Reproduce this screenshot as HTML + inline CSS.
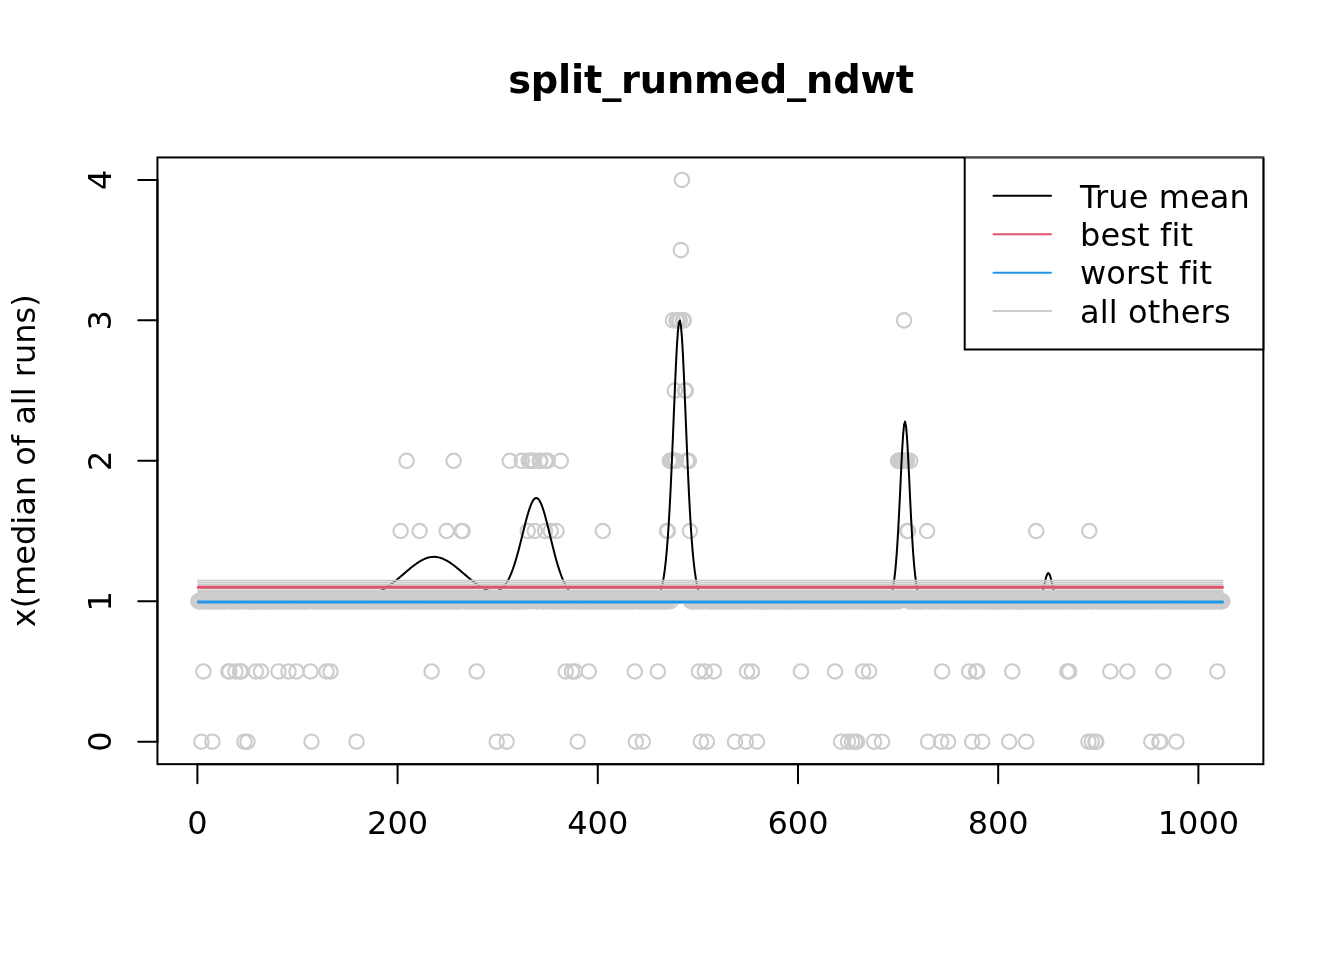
<!DOCTYPE html>
<html lang="en"><head><meta charset="utf-8"><title>split_runmed_ndwt</title>
<style>html,body{margin:0;padding:0;background:#fff}svg{display:block}text{font-family:"DejaVu Sans","Liberation Sans",sans-serif;fill:#000}</style></head><body>
<svg width="1344" height="960" viewBox="0 0 1344 960">
<rect width="1344" height="960" fill="#fff"/>
<g fill="none" stroke="#cccccc" stroke-width="2.15">
<circle cx="198.40" cy="601.24" r="7.2"/><circle cx="199.40" cy="601.24" r="7.2"/><circle cx="200.40" cy="601.24" r="7.2"/><circle cx="201.40" cy="741.69" r="7.2"/><circle cx="202.40" cy="601.24" r="7.2"/><circle cx="203.40" cy="671.47" r="7.2"/><circle cx="204.41" cy="601.24" r="7.2"/><circle cx="205.41" cy="601.24" r="7.2"/><circle cx="206.41" cy="601.24" r="7.2"/><circle cx="207.41" cy="601.24" r="7.2"/><circle cx="208.41" cy="601.24" r="7.2"/><circle cx="209.41" cy="601.24" r="7.2"/><circle cx="210.41" cy="601.24" r="7.2"/><circle cx="211.41" cy="601.24" r="7.2"/><circle cx="212.41" cy="741.69" r="7.2"/><circle cx="213.41" cy="601.24" r="7.2"/><circle cx="214.42" cy="601.24" r="7.2"/><circle cx="215.42" cy="601.24" r="7.2"/><circle cx="216.42" cy="601.24" r="7.2"/><circle cx="217.42" cy="601.24" r="7.2"/><circle cx="218.42" cy="601.24" r="7.2"/><circle cx="219.42" cy="601.24" r="7.2"/><circle cx="220.42" cy="601.24" r="7.2"/><circle cx="221.42" cy="601.24" r="7.2"/><circle cx="222.42" cy="601.24" r="7.2"/><circle cx="223.42" cy="601.24" r="7.2"/><circle cx="224.43" cy="601.24" r="7.2"/><circle cx="225.43" cy="601.24" r="7.2"/><circle cx="226.43" cy="601.24" r="7.2"/><circle cx="227.43" cy="601.24" r="7.2"/><circle cx="228.43" cy="671.47" r="7.2"/><circle cx="229.43" cy="671.47" r="7.2"/><circle cx="230.43" cy="601.24" r="7.2"/><circle cx="231.43" cy="601.24" r="7.2"/><circle cx="232.43" cy="601.24" r="7.2"/><circle cx="233.43" cy="601.24" r="7.2"/><circle cx="234.44" cy="601.24" r="7.2"/><circle cx="235.44" cy="671.47" r="7.2"/><circle cx="236.44" cy="601.24" r="7.2"/><circle cx="237.44" cy="601.24" r="7.2"/><circle cx="238.44" cy="601.24" r="7.2"/><circle cx="239.44" cy="601.24" r="7.2"/><circle cx="240.04" cy="671.47" r="7.2"/><circle cx="241.14" cy="671.47" r="7.2"/><circle cx="242.44" cy="601.24" r="7.2"/><circle cx="243.44" cy="601.24" r="7.2"/><circle cx="244.44" cy="741.69" r="7.2"/><circle cx="245.45" cy="601.24" r="7.2"/><circle cx="246.45" cy="601.24" r="7.2"/><circle cx="247.45" cy="741.69" r="7.2"/><circle cx="248.45" cy="601.24" r="7.2"/><circle cx="249.45" cy="601.24" r="7.2"/><circle cx="250.45" cy="601.24" r="7.2"/><circle cx="251.45" cy="601.24" r="7.2"/><circle cx="252.45" cy="601.24" r="7.2"/><circle cx="253.45" cy="601.24" r="7.2"/><circle cx="254.45" cy="601.24" r="7.2"/><circle cx="255.86" cy="671.47" r="7.2"/><circle cx="256.46" cy="601.24" r="7.2"/><circle cx="257.46" cy="601.24" r="7.2"/><circle cx="258.46" cy="601.24" r="7.2"/><circle cx="259.46" cy="601.24" r="7.2"/><circle cx="260.46" cy="601.24" r="7.2"/><circle cx="261.06" cy="671.47" r="7.2"/><circle cx="262.46" cy="601.24" r="7.2"/><circle cx="263.46" cy="601.24" r="7.2"/><circle cx="264.46" cy="601.24" r="7.2"/><circle cx="265.47" cy="601.24" r="7.2"/><circle cx="266.47" cy="601.24" r="7.2"/><circle cx="267.47" cy="601.24" r="7.2"/><circle cx="268.47" cy="601.24" r="7.2"/><circle cx="269.47" cy="601.24" r="7.2"/><circle cx="270.47" cy="601.24" r="7.2"/><circle cx="271.47" cy="601.24" r="7.2"/><circle cx="272.47" cy="601.24" r="7.2"/><circle cx="273.47" cy="601.24" r="7.2"/><circle cx="274.47" cy="601.24" r="7.2"/><circle cx="275.48" cy="601.24" r="7.2"/><circle cx="276.48" cy="601.24" r="7.2"/><circle cx="277.48" cy="601.24" r="7.2"/><circle cx="278.48" cy="671.47" r="7.2"/><circle cx="279.48" cy="601.24" r="7.2"/><circle cx="280.48" cy="601.24" r="7.2"/><circle cx="281.48" cy="601.24" r="7.2"/><circle cx="282.48" cy="601.24" r="7.2"/><circle cx="283.48" cy="601.24" r="7.2"/><circle cx="284.48" cy="601.24" r="7.2"/><circle cx="285.49" cy="601.24" r="7.2"/><circle cx="286.49" cy="601.24" r="7.2"/><circle cx="287.49" cy="601.24" r="7.2"/><circle cx="288.49" cy="671.47" r="7.2"/><circle cx="289.49" cy="601.24" r="7.2"/><circle cx="290.49" cy="601.24" r="7.2"/><circle cx="291.49" cy="601.24" r="7.2"/><circle cx="292.49" cy="601.24" r="7.2"/><circle cx="293.49" cy="601.24" r="7.2"/><circle cx="294.49" cy="601.24" r="7.2"/><circle cx="295.49" cy="601.24" r="7.2"/><circle cx="296.50" cy="671.47" r="7.2"/><circle cx="297.50" cy="601.24" r="7.2"/><circle cx="298.50" cy="601.24" r="7.2"/><circle cx="299.50" cy="601.24" r="7.2"/><circle cx="300.50" cy="601.24" r="7.2"/><circle cx="301.50" cy="601.24" r="7.2"/><circle cx="302.50" cy="601.24" r="7.2"/><circle cx="303.50" cy="601.24" r="7.2"/><circle cx="304.50" cy="601.24" r="7.2"/><circle cx="305.50" cy="601.24" r="7.2"/><circle cx="306.51" cy="601.24" r="7.2"/><circle cx="307.51" cy="601.24" r="7.2"/><circle cx="308.51" cy="601.24" r="7.2"/><circle cx="309.51" cy="601.24" r="7.2"/><circle cx="310.51" cy="671.47" r="7.2"/><circle cx="311.51" cy="741.69" r="7.2"/><circle cx="312.51" cy="601.24" r="7.2"/><circle cx="313.51" cy="601.24" r="7.2"/><circle cx="314.51" cy="601.24" r="7.2"/><circle cx="315.51" cy="601.24" r="7.2"/><circle cx="316.52" cy="601.24" r="7.2"/><circle cx="317.52" cy="601.24" r="7.2"/><circle cx="318.52" cy="601.24" r="7.2"/><circle cx="319.52" cy="601.24" r="7.2"/><circle cx="320.52" cy="601.24" r="7.2"/><circle cx="321.52" cy="601.24" r="7.2"/><circle cx="322.52" cy="601.24" r="7.2"/><circle cx="323.52" cy="601.24" r="7.2"/><circle cx="324.52" cy="601.24" r="7.2"/><circle cx="325.52" cy="601.24" r="7.2"/><circle cx="326.53" cy="671.47" r="7.2"/><circle cx="327.53" cy="601.24" r="7.2"/><circle cx="328.53" cy="601.24" r="7.2"/><circle cx="329.53" cy="601.24" r="7.2"/><circle cx="330.53" cy="671.47" r="7.2"/><circle cx="331.53" cy="601.24" r="7.2"/><circle cx="332.53" cy="601.24" r="7.2"/><circle cx="333.53" cy="601.24" r="7.2"/><circle cx="334.53" cy="601.24" r="7.2"/><circle cx="335.53" cy="601.24" r="7.2"/><circle cx="336.53" cy="601.24" r="7.2"/><circle cx="337.54" cy="601.24" r="7.2"/><circle cx="338.54" cy="601.24" r="7.2"/><circle cx="339.54" cy="601.24" r="7.2"/><circle cx="340.54" cy="601.24" r="7.2"/><circle cx="341.54" cy="601.24" r="7.2"/><circle cx="342.54" cy="601.24" r="7.2"/><circle cx="343.54" cy="601.24" r="7.2"/><circle cx="344.54" cy="601.24" r="7.2"/><circle cx="345.54" cy="601.24" r="7.2"/><circle cx="346.54" cy="601.24" r="7.2"/><circle cx="347.55" cy="601.24" r="7.2"/><circle cx="348.55" cy="601.24" r="7.2"/><circle cx="349.55" cy="601.24" r="7.2"/><circle cx="350.55" cy="601.24" r="7.2"/><circle cx="351.55" cy="601.24" r="7.2"/><circle cx="352.55" cy="601.24" r="7.2"/><circle cx="353.55" cy="601.24" r="7.2"/><circle cx="354.55" cy="601.24" r="7.2"/><circle cx="355.55" cy="601.24" r="7.2"/><circle cx="356.55" cy="741.69" r="7.2"/><circle cx="357.56" cy="601.24" r="7.2"/><circle cx="358.56" cy="601.24" r="7.2"/><circle cx="359.56" cy="601.24" r="7.2"/><circle cx="360.56" cy="601.24" r="7.2"/><circle cx="361.56" cy="601.24" r="7.2"/><circle cx="362.56" cy="601.24" r="7.2"/><circle cx="363.56" cy="601.24" r="7.2"/><circle cx="364.56" cy="601.24" r="7.2"/><circle cx="365.56" cy="601.24" r="7.2"/><circle cx="366.56" cy="601.24" r="7.2"/><circle cx="367.57" cy="601.24" r="7.2"/><circle cx="368.57" cy="601.24" r="7.2"/><circle cx="369.57" cy="601.24" r="7.2"/><circle cx="370.57" cy="601.24" r="7.2"/><circle cx="371.57" cy="601.24" r="7.2"/><circle cx="372.57" cy="601.24" r="7.2"/><circle cx="373.57" cy="601.24" r="7.2"/><circle cx="374.57" cy="601.24" r="7.2"/><circle cx="375.57" cy="601.24" r="7.2"/><circle cx="376.57" cy="601.24" r="7.2"/><circle cx="377.57" cy="601.24" r="7.2"/><circle cx="378.58" cy="601.24" r="7.2"/><circle cx="379.58" cy="601.24" r="7.2"/><circle cx="380.58" cy="601.24" r="7.2"/><circle cx="381.58" cy="601.24" r="7.2"/><circle cx="382.58" cy="601.24" r="7.2"/><circle cx="383.58" cy="601.24" r="7.2"/><circle cx="384.58" cy="601.24" r="7.2"/><circle cx="385.58" cy="601.24" r="7.2"/><circle cx="386.58" cy="601.24" r="7.2"/><circle cx="387.58" cy="601.24" r="7.2"/><circle cx="388.59" cy="601.24" r="7.2"/><circle cx="389.59" cy="601.24" r="7.2"/><circle cx="390.59" cy="601.24" r="7.2"/><circle cx="391.59" cy="601.24" r="7.2"/><circle cx="392.59" cy="601.24" r="7.2"/><circle cx="393.59" cy="601.24" r="7.2"/><circle cx="394.59" cy="601.24" r="7.2"/><circle cx="395.59" cy="601.24" r="7.2"/><circle cx="396.59" cy="601.24" r="7.2"/><circle cx="397.59" cy="601.24" r="7.2"/><circle cx="398.60" cy="601.24" r="7.2"/><circle cx="399.60" cy="601.24" r="7.2"/><circle cx="400.60" cy="531.02" r="7.2"/><circle cx="401.60" cy="601.24" r="7.2"/><circle cx="402.60" cy="601.24" r="7.2"/><circle cx="403.60" cy="601.24" r="7.2"/><circle cx="404.60" cy="601.24" r="7.2"/><circle cx="405.60" cy="601.24" r="7.2"/><circle cx="406.60" cy="460.80" r="7.2"/><circle cx="407.60" cy="601.24" r="7.2"/><circle cx="408.61" cy="601.24" r="7.2"/><circle cx="409.61" cy="601.24" r="7.2"/><circle cx="410.61" cy="601.24" r="7.2"/><circle cx="411.61" cy="601.24" r="7.2"/><circle cx="412.61" cy="601.24" r="7.2"/><circle cx="413.61" cy="601.24" r="7.2"/><circle cx="414.61" cy="601.24" r="7.2"/><circle cx="415.61" cy="601.24" r="7.2"/><circle cx="416.61" cy="601.24" r="7.2"/><circle cx="417.61" cy="601.24" r="7.2"/><circle cx="418.62" cy="601.24" r="7.2"/><circle cx="419.62" cy="531.02" r="7.2"/><circle cx="420.62" cy="601.24" r="7.2"/><circle cx="421.62" cy="601.24" r="7.2"/><circle cx="422.62" cy="601.24" r="7.2"/><circle cx="423.62" cy="601.24" r="7.2"/><circle cx="424.62" cy="601.24" r="7.2"/><circle cx="425.62" cy="601.24" r="7.2"/><circle cx="426.62" cy="601.24" r="7.2"/><circle cx="427.62" cy="601.24" r="7.2"/><circle cx="428.62" cy="601.24" r="7.2"/><circle cx="429.63" cy="601.24" r="7.2"/><circle cx="430.63" cy="601.24" r="7.2"/><circle cx="431.63" cy="671.47" r="7.2"/><circle cx="432.63" cy="601.24" r="7.2"/><circle cx="433.63" cy="601.24" r="7.2"/><circle cx="434.63" cy="601.24" r="7.2"/><circle cx="435.63" cy="601.24" r="7.2"/><circle cx="436.63" cy="601.24" r="7.2"/><circle cx="437.63" cy="601.24" r="7.2"/><circle cx="438.63" cy="601.24" r="7.2"/><circle cx="439.64" cy="601.24" r="7.2"/><circle cx="440.64" cy="601.24" r="7.2"/><circle cx="441.64" cy="601.24" r="7.2"/><circle cx="442.64" cy="601.24" r="7.2"/><circle cx="443.64" cy="601.24" r="7.2"/><circle cx="444.64" cy="601.24" r="7.2"/><circle cx="445.64" cy="601.24" r="7.2"/><circle cx="446.64" cy="531.02" r="7.2"/><circle cx="447.64" cy="601.24" r="7.2"/><circle cx="448.64" cy="601.24" r="7.2"/><circle cx="449.65" cy="601.24" r="7.2"/><circle cx="450.65" cy="601.24" r="7.2"/><circle cx="451.65" cy="601.24" r="7.2"/><circle cx="452.65" cy="601.24" r="7.2"/><circle cx="453.65" cy="460.80" r="7.2"/><circle cx="454.65" cy="601.24" r="7.2"/><circle cx="455.65" cy="601.24" r="7.2"/><circle cx="456.65" cy="601.24" r="7.2"/><circle cx="457.65" cy="601.24" r="7.2"/><circle cx="458.65" cy="601.24" r="7.2"/><circle cx="459.66" cy="601.24" r="7.2"/><circle cx="460.66" cy="601.24" r="7.2"/><circle cx="461.66" cy="531.02" r="7.2"/><circle cx="462.66" cy="531.02" r="7.2"/><circle cx="463.66" cy="601.24" r="7.2"/><circle cx="464.66" cy="601.24" r="7.2"/><circle cx="465.66" cy="601.24" r="7.2"/><circle cx="466.66" cy="601.24" r="7.2"/><circle cx="467.66" cy="601.24" r="7.2"/><circle cx="468.66" cy="601.24" r="7.2"/><circle cx="469.66" cy="601.24" r="7.2"/><circle cx="470.67" cy="601.24" r="7.2"/><circle cx="471.67" cy="601.24" r="7.2"/><circle cx="472.67" cy="601.24" r="7.2"/><circle cx="473.67" cy="601.24" r="7.2"/><circle cx="474.67" cy="601.24" r="7.2"/><circle cx="475.67" cy="601.24" r="7.2"/><circle cx="476.67" cy="671.47" r="7.2"/><circle cx="477.67" cy="601.24" r="7.2"/><circle cx="478.67" cy="601.24" r="7.2"/><circle cx="479.67" cy="601.24" r="7.2"/><circle cx="480.68" cy="601.24" r="7.2"/><circle cx="481.68" cy="601.24" r="7.2"/><circle cx="482.68" cy="601.24" r="7.2"/><circle cx="483.68" cy="601.24" r="7.2"/><circle cx="484.68" cy="601.24" r="7.2"/><circle cx="485.68" cy="601.24" r="7.2"/><circle cx="486.68" cy="601.24" r="7.2"/><circle cx="487.68" cy="601.24" r="7.2"/><circle cx="488.68" cy="601.24" r="7.2"/><circle cx="489.68" cy="601.24" r="7.2"/><circle cx="490.69" cy="601.24" r="7.2"/><circle cx="491.69" cy="601.24" r="7.2"/><circle cx="492.69" cy="601.24" r="7.2"/><circle cx="493.69" cy="601.24" r="7.2"/><circle cx="494.69" cy="601.24" r="7.2"/><circle cx="495.69" cy="601.24" r="7.2"/><circle cx="496.69" cy="741.69" r="7.2"/><circle cx="497.69" cy="601.24" r="7.2"/><circle cx="498.69" cy="601.24" r="7.2"/><circle cx="499.69" cy="601.24" r="7.2"/><circle cx="500.70" cy="601.24" r="7.2"/><circle cx="501.70" cy="601.24" r="7.2"/><circle cx="502.70" cy="601.24" r="7.2"/><circle cx="503.70" cy="601.24" r="7.2"/><circle cx="504.70" cy="601.24" r="7.2"/><circle cx="505.70" cy="601.24" r="7.2"/><circle cx="506.70" cy="741.69" r="7.2"/><circle cx="507.70" cy="601.24" r="7.2"/><circle cx="508.70" cy="601.24" r="7.2"/><circle cx="509.70" cy="460.80" r="7.2"/><circle cx="510.70" cy="601.24" r="7.2"/><circle cx="511.71" cy="601.24" r="7.2"/><circle cx="512.71" cy="601.24" r="7.2"/><circle cx="513.71" cy="601.24" r="7.2"/><circle cx="514.71" cy="601.24" r="7.2"/><circle cx="515.71" cy="601.24" r="7.2"/><circle cx="516.71" cy="601.24" r="7.2"/><circle cx="517.71" cy="601.24" r="7.2"/><circle cx="518.71" cy="601.24" r="7.2"/><circle cx="519.71" cy="601.24" r="7.2"/><circle cx="520.71" cy="601.24" r="7.2"/><circle cx="521.72" cy="460.80" r="7.2"/><circle cx="522.72" cy="601.24" r="7.2"/><circle cx="523.72" cy="601.24" r="7.2"/><circle cx="524.72" cy="601.24" r="7.2"/><circle cx="525.72" cy="601.24" r="7.2"/><circle cx="526.72" cy="601.24" r="7.2"/><circle cx="527.72" cy="531.02" r="7.2"/><circle cx="528.72" cy="460.80" r="7.2"/><circle cx="529.72" cy="460.80" r="7.2"/><circle cx="530.72" cy="601.24" r="7.2"/><circle cx="531.73" cy="460.80" r="7.2"/><circle cx="532.73" cy="601.24" r="7.2"/><circle cx="533.43" cy="460.80" r="7.2"/><circle cx="534.73" cy="531.02" r="7.2"/><circle cx="535.73" cy="601.24" r="7.2"/><circle cx="536.73" cy="601.24" r="7.2"/><circle cx="537.73" cy="601.24" r="7.2"/><circle cx="538.73" cy="601.24" r="7.2"/><circle cx="539.73" cy="460.80" r="7.2"/><circle cx="540.33" cy="460.80" r="7.2"/><circle cx="541.74" cy="601.24" r="7.2"/><circle cx="542.74" cy="601.24" r="7.2"/><circle cx="543.74" cy="601.24" r="7.2"/><circle cx="545.04" cy="531.02" r="7.2"/><circle cx="545.34" cy="460.80" r="7.2"/><circle cx="546.74" cy="601.24" r="7.2"/><circle cx="547.74" cy="460.80" r="7.2"/><circle cx="548.74" cy="601.24" r="7.2"/><circle cx="549.74" cy="601.24" r="7.2"/><circle cx="550.74" cy="531.02" r="7.2"/><circle cx="551.75" cy="601.24" r="7.2"/><circle cx="552.75" cy="601.24" r="7.2"/><circle cx="553.75" cy="601.24" r="7.2"/><circle cx="554.75" cy="601.24" r="7.2"/><circle cx="555.75" cy="601.24" r="7.2"/><circle cx="556.55" cy="531.02" r="7.2"/><circle cx="557.75" cy="601.24" r="7.2"/><circle cx="558.75" cy="601.24" r="7.2"/><circle cx="559.75" cy="601.24" r="7.2"/><circle cx="560.75" cy="460.80" r="7.2"/><circle cx="561.75" cy="601.24" r="7.2"/><circle cx="562.76" cy="601.24" r="7.2"/><circle cx="563.76" cy="601.24" r="7.2"/><circle cx="564.76" cy="601.24" r="7.2"/><circle cx="565.76" cy="671.47" r="7.2"/><circle cx="566.76" cy="601.24" r="7.2"/><circle cx="567.76" cy="601.24" r="7.2"/><circle cx="568.76" cy="601.24" r="7.2"/><circle cx="569.76" cy="601.24" r="7.2"/><circle cx="570.76" cy="601.24" r="7.2"/><circle cx="571.96" cy="671.47" r="7.2"/><circle cx="572.77" cy="601.24" r="7.2"/><circle cx="573.77" cy="601.24" r="7.2"/><circle cx="574.97" cy="671.47" r="7.2"/><circle cx="575.77" cy="601.24" r="7.2"/><circle cx="576.77" cy="601.24" r="7.2"/><circle cx="577.77" cy="741.69" r="7.2"/><circle cx="578.77" cy="601.24" r="7.2"/><circle cx="579.77" cy="601.24" r="7.2"/><circle cx="580.77" cy="601.24" r="7.2"/><circle cx="581.77" cy="601.24" r="7.2"/><circle cx="582.78" cy="601.24" r="7.2"/><circle cx="583.78" cy="601.24" r="7.2"/><circle cx="584.78" cy="601.24" r="7.2"/><circle cx="585.78" cy="601.24" r="7.2"/><circle cx="586.78" cy="601.24" r="7.2"/><circle cx="587.78" cy="601.24" r="7.2"/><circle cx="588.78" cy="671.47" r="7.2"/><circle cx="589.78" cy="601.24" r="7.2"/><circle cx="590.78" cy="601.24" r="7.2"/><circle cx="591.78" cy="601.24" r="7.2"/><circle cx="592.79" cy="601.24" r="7.2"/><circle cx="593.79" cy="601.24" r="7.2"/><circle cx="594.79" cy="601.24" r="7.2"/><circle cx="595.79" cy="601.24" r="7.2"/><circle cx="596.79" cy="601.24" r="7.2"/><circle cx="597.79" cy="601.24" r="7.2"/><circle cx="598.79" cy="601.24" r="7.2"/><circle cx="599.79" cy="601.24" r="7.2"/><circle cx="600.79" cy="601.24" r="7.2"/><circle cx="601.79" cy="601.24" r="7.2"/><circle cx="602.79" cy="531.02" r="7.2"/><circle cx="603.80" cy="601.24" r="7.2"/><circle cx="604.80" cy="601.24" r="7.2"/><circle cx="605.80" cy="601.24" r="7.2"/><circle cx="606.80" cy="601.24" r="7.2"/><circle cx="607.80" cy="601.24" r="7.2"/><circle cx="608.80" cy="601.24" r="7.2"/><circle cx="609.80" cy="601.24" r="7.2"/><circle cx="610.80" cy="601.24" r="7.2"/><circle cx="611.80" cy="601.24" r="7.2"/><circle cx="612.80" cy="601.24" r="7.2"/><circle cx="613.81" cy="601.24" r="7.2"/><circle cx="614.81" cy="601.24" r="7.2"/><circle cx="615.81" cy="601.24" r="7.2"/><circle cx="616.81" cy="601.24" r="7.2"/><circle cx="617.81" cy="601.24" r="7.2"/><circle cx="618.81" cy="601.24" r="7.2"/><circle cx="619.81" cy="601.24" r="7.2"/><circle cx="620.81" cy="601.24" r="7.2"/><circle cx="621.81" cy="601.24" r="7.2"/><circle cx="622.81" cy="601.24" r="7.2"/><circle cx="623.82" cy="601.24" r="7.2"/><circle cx="624.82" cy="601.24" r="7.2"/><circle cx="625.82" cy="601.24" r="7.2"/><circle cx="626.82" cy="601.24" r="7.2"/><circle cx="627.82" cy="601.24" r="7.2"/><circle cx="628.82" cy="601.24" r="7.2"/><circle cx="629.82" cy="601.24" r="7.2"/><circle cx="630.82" cy="601.24" r="7.2"/><circle cx="631.82" cy="601.24" r="7.2"/><circle cx="632.82" cy="601.24" r="7.2"/><circle cx="633.83" cy="601.24" r="7.2"/><circle cx="634.83" cy="671.47" r="7.2"/><circle cx="635.83" cy="741.69" r="7.2"/><circle cx="636.83" cy="601.24" r="7.2"/><circle cx="637.83" cy="601.24" r="7.2"/><circle cx="638.83" cy="601.24" r="7.2"/><circle cx="639.83" cy="601.24" r="7.2"/><circle cx="640.83" cy="601.24" r="7.2"/><circle cx="641.83" cy="601.24" r="7.2"/><circle cx="642.83" cy="741.69" r="7.2"/><circle cx="643.83" cy="601.24" r="7.2"/><circle cx="644.84" cy="601.24" r="7.2"/><circle cx="645.84" cy="601.24" r="7.2"/><circle cx="646.84" cy="601.24" r="7.2"/><circle cx="647.84" cy="601.24" r="7.2"/><circle cx="648.84" cy="601.24" r="7.2"/><circle cx="649.84" cy="601.24" r="7.2"/><circle cx="650.84" cy="601.24" r="7.2"/><circle cx="651.84" cy="601.24" r="7.2"/><circle cx="652.84" cy="601.24" r="7.2"/><circle cx="653.84" cy="601.24" r="7.2"/><circle cx="654.85" cy="601.24" r="7.2"/><circle cx="655.85" cy="601.24" r="7.2"/><circle cx="656.85" cy="601.24" r="7.2"/><circle cx="657.85" cy="671.47" r="7.2"/><circle cx="658.85" cy="601.24" r="7.2"/><circle cx="659.85" cy="601.24" r="7.2"/><circle cx="660.85" cy="601.24" r="7.2"/><circle cx="661.85" cy="601.24" r="7.2"/><circle cx="662.85" cy="601.24" r="7.2"/><circle cx="663.85" cy="601.24" r="7.2"/><circle cx="664.86" cy="601.24" r="7.2"/><circle cx="665.86" cy="601.24" r="7.2"/><circle cx="666.86" cy="531.02" r="7.2"/><circle cx="667.16" cy="601.24" r="7.2"/><circle cx="667.86" cy="531.02" r="7.2"/><circle cx="669.86" cy="460.80" r="7.2"/><circle cx="670.46" cy="601.24" r="7.2"/><circle cx="670.86" cy="460.80" r="7.2"/><circle cx="671.86" cy="460.80" r="7.2"/><circle cx="672.86" cy="460.80" r="7.2"/><circle cx="672.86" cy="320.36" r="7.2"/><circle cx="673.86" cy="460.80" r="7.2"/><circle cx="674.87" cy="390.58" r="7.2"/><circle cx="675.87" cy="460.80" r="7.2"/><circle cx="676.37" cy="320.36" r="7.2"/><circle cx="677.87" cy="320.36" r="7.2"/><circle cx="678.87" cy="320.36" r="7.2"/><circle cx="679.87" cy="320.36" r="7.2"/><circle cx="680.87" cy="250.13" r="7.2"/><circle cx="681.87" cy="179.91" r="7.2"/><circle cx="682.87" cy="320.36" r="7.2"/><circle cx="683.87" cy="320.36" r="7.2"/><circle cx="684.88" cy="390.58" r="7.2"/><circle cx="685.88" cy="390.58" r="7.2"/><circle cx="686.88" cy="460.80" r="7.2"/><circle cx="687.88" cy="460.80" r="7.2"/><circle cx="688.88" cy="460.80" r="7.2"/><circle cx="689.88" cy="531.02" r="7.2"/><circle cx="690.88" cy="601.24" r="7.2"/><circle cx="691.88" cy="601.24" r="7.2"/><circle cx="692.88" cy="601.24" r="7.2"/><circle cx="693.88" cy="601.24" r="7.2"/><circle cx="694.88" cy="601.24" r="7.2"/><circle cx="695.89" cy="601.24" r="7.2"/><circle cx="696.89" cy="601.24" r="7.2"/><circle cx="697.89" cy="601.24" r="7.2"/><circle cx="698.89" cy="671.47" r="7.2"/><circle cx="699.89" cy="601.24" r="7.2"/><circle cx="700.89" cy="741.69" r="7.2"/><circle cx="701.89" cy="601.24" r="7.2"/><circle cx="702.89" cy="601.24" r="7.2"/><circle cx="703.89" cy="601.24" r="7.2"/><circle cx="704.89" cy="671.47" r="7.2"/><circle cx="705.90" cy="601.24" r="7.2"/><circle cx="706.90" cy="741.69" r="7.2"/><circle cx="707.90" cy="601.24" r="7.2"/><circle cx="708.90" cy="601.24" r="7.2"/><circle cx="709.90" cy="601.24" r="7.2"/><circle cx="710.90" cy="601.24" r="7.2"/><circle cx="711.90" cy="601.24" r="7.2"/><circle cx="712.90" cy="601.24" r="7.2"/><circle cx="713.90" cy="671.47" r="7.2"/><circle cx="714.90" cy="601.24" r="7.2"/><circle cx="715.91" cy="601.24" r="7.2"/><circle cx="716.91" cy="601.24" r="7.2"/><circle cx="717.91" cy="601.24" r="7.2"/><circle cx="718.91" cy="601.24" r="7.2"/><circle cx="719.91" cy="601.24" r="7.2"/><circle cx="720.91" cy="601.24" r="7.2"/><circle cx="721.91" cy="601.24" r="7.2"/><circle cx="722.91" cy="601.24" r="7.2"/><circle cx="723.91" cy="601.24" r="7.2"/><circle cx="724.91" cy="601.24" r="7.2"/><circle cx="725.92" cy="601.24" r="7.2"/><circle cx="726.92" cy="601.24" r="7.2"/><circle cx="727.92" cy="601.24" r="7.2"/><circle cx="728.92" cy="601.24" r="7.2"/><circle cx="729.92" cy="601.24" r="7.2"/><circle cx="730.92" cy="601.24" r="7.2"/><circle cx="731.92" cy="601.24" r="7.2"/><circle cx="732.92" cy="601.24" r="7.2"/><circle cx="733.92" cy="601.24" r="7.2"/><circle cx="734.92" cy="741.69" r="7.2"/><circle cx="735.92" cy="601.24" r="7.2"/><circle cx="736.93" cy="601.24" r="7.2"/><circle cx="737.93" cy="601.24" r="7.2"/><circle cx="738.93" cy="601.24" r="7.2"/><circle cx="739.93" cy="601.24" r="7.2"/><circle cx="740.93" cy="601.24" r="7.2"/><circle cx="741.93" cy="601.24" r="7.2"/><circle cx="742.93" cy="601.24" r="7.2"/><circle cx="743.93" cy="601.24" r="7.2"/><circle cx="744.93" cy="601.24" r="7.2"/><circle cx="745.93" cy="741.69" r="7.2"/><circle cx="746.94" cy="671.47" r="7.2"/><circle cx="747.94" cy="601.24" r="7.2"/><circle cx="748.94" cy="601.24" r="7.2"/><circle cx="749.94" cy="601.24" r="7.2"/><circle cx="750.94" cy="601.24" r="7.2"/><circle cx="751.94" cy="671.47" r="7.2"/><circle cx="752.94" cy="601.24" r="7.2"/><circle cx="753.94" cy="601.24" r="7.2"/><circle cx="754.94" cy="601.24" r="7.2"/><circle cx="755.94" cy="601.24" r="7.2"/><circle cx="756.95" cy="741.69" r="7.2"/><circle cx="757.95" cy="601.24" r="7.2"/><circle cx="758.95" cy="601.24" r="7.2"/><circle cx="759.95" cy="601.24" r="7.2"/><circle cx="760.95" cy="601.24" r="7.2"/><circle cx="761.95" cy="601.24" r="7.2"/><circle cx="762.95" cy="601.24" r="7.2"/><circle cx="763.95" cy="601.24" r="7.2"/><circle cx="764.95" cy="601.24" r="7.2"/><circle cx="765.95" cy="601.24" r="7.2"/><circle cx="766.96" cy="601.24" r="7.2"/><circle cx="767.96" cy="601.24" r="7.2"/><circle cx="768.96" cy="601.24" r="7.2"/><circle cx="769.96" cy="601.24" r="7.2"/><circle cx="770.96" cy="601.24" r="7.2"/><circle cx="771.96" cy="601.24" r="7.2"/><circle cx="772.96" cy="601.24" r="7.2"/><circle cx="773.96" cy="601.24" r="7.2"/><circle cx="774.96" cy="601.24" r="7.2"/><circle cx="775.96" cy="601.24" r="7.2"/><circle cx="776.97" cy="601.24" r="7.2"/><circle cx="777.97" cy="601.24" r="7.2"/><circle cx="778.97" cy="601.24" r="7.2"/><circle cx="779.97" cy="601.24" r="7.2"/><circle cx="780.97" cy="601.24" r="7.2"/><circle cx="781.97" cy="601.24" r="7.2"/><circle cx="782.97" cy="601.24" r="7.2"/><circle cx="783.97" cy="601.24" r="7.2"/><circle cx="784.97" cy="601.24" r="7.2"/><circle cx="785.97" cy="601.24" r="7.2"/><circle cx="786.97" cy="601.24" r="7.2"/><circle cx="787.98" cy="601.24" r="7.2"/><circle cx="788.98" cy="601.24" r="7.2"/><circle cx="789.98" cy="601.24" r="7.2"/><circle cx="790.98" cy="601.24" r="7.2"/><circle cx="791.98" cy="601.24" r="7.2"/><circle cx="792.98" cy="601.24" r="7.2"/><circle cx="793.98" cy="601.24" r="7.2"/><circle cx="794.98" cy="601.24" r="7.2"/><circle cx="795.98" cy="601.24" r="7.2"/><circle cx="796.98" cy="601.24" r="7.2"/><circle cx="797.99" cy="601.24" r="7.2"/><circle cx="798.99" cy="601.24" r="7.2"/><circle cx="799.99" cy="601.24" r="7.2"/><circle cx="800.99" cy="671.47" r="7.2"/><circle cx="801.99" cy="601.24" r="7.2"/><circle cx="802.99" cy="601.24" r="7.2"/><circle cx="803.99" cy="601.24" r="7.2"/><circle cx="804.99" cy="601.24" r="7.2"/><circle cx="805.99" cy="601.24" r="7.2"/><circle cx="806.99" cy="601.24" r="7.2"/><circle cx="808.00" cy="601.24" r="7.2"/><circle cx="809.00" cy="601.24" r="7.2"/><circle cx="810.00" cy="601.24" r="7.2"/><circle cx="811.00" cy="601.24" r="7.2"/><circle cx="812.00" cy="601.24" r="7.2"/><circle cx="813.00" cy="601.24" r="7.2"/><circle cx="814.00" cy="601.24" r="7.2"/><circle cx="815.00" cy="601.24" r="7.2"/><circle cx="816.00" cy="601.24" r="7.2"/><circle cx="817.00" cy="601.24" r="7.2"/><circle cx="818.01" cy="601.24" r="7.2"/><circle cx="819.01" cy="601.24" r="7.2"/><circle cx="820.01" cy="601.24" r="7.2"/><circle cx="821.01" cy="601.24" r="7.2"/><circle cx="822.01" cy="601.24" r="7.2"/><circle cx="823.01" cy="601.24" r="7.2"/><circle cx="824.01" cy="601.24" r="7.2"/><circle cx="825.01" cy="601.24" r="7.2"/><circle cx="826.01" cy="601.24" r="7.2"/><circle cx="827.01" cy="601.24" r="7.2"/><circle cx="828.01" cy="601.24" r="7.2"/><circle cx="829.02" cy="601.24" r="7.2"/><circle cx="830.02" cy="601.24" r="7.2"/><circle cx="831.02" cy="601.24" r="7.2"/><circle cx="832.02" cy="601.24" r="7.2"/><circle cx="833.02" cy="601.24" r="7.2"/><circle cx="834.02" cy="601.24" r="7.2"/><circle cx="835.02" cy="671.47" r="7.2"/><circle cx="836.02" cy="601.24" r="7.2"/><circle cx="837.02" cy="601.24" r="7.2"/><circle cx="838.02" cy="601.24" r="7.2"/><circle cx="839.03" cy="601.24" r="7.2"/><circle cx="840.03" cy="601.24" r="7.2"/><circle cx="841.03" cy="741.69" r="7.2"/><circle cx="842.03" cy="601.24" r="7.2"/><circle cx="843.03" cy="601.24" r="7.2"/><circle cx="844.03" cy="601.24" r="7.2"/><circle cx="845.03" cy="601.24" r="7.2"/><circle cx="846.03" cy="601.24" r="7.2"/><circle cx="847.03" cy="601.24" r="7.2"/><circle cx="848.03" cy="741.69" r="7.2"/><circle cx="849.04" cy="601.24" r="7.2"/><circle cx="850.04" cy="601.24" r="7.2"/><circle cx="851.04" cy="601.24" r="7.2"/><circle cx="852.04" cy="741.69" r="7.2"/><circle cx="853.04" cy="601.24" r="7.2"/><circle cx="854.04" cy="601.24" r="7.2"/><circle cx="855.04" cy="741.69" r="7.2"/><circle cx="856.04" cy="601.24" r="7.2"/><circle cx="857.04" cy="741.69" r="7.2"/><circle cx="858.04" cy="601.24" r="7.2"/><circle cx="859.05" cy="601.24" r="7.2"/><circle cx="860.05" cy="601.24" r="7.2"/><circle cx="861.05" cy="601.24" r="7.2"/><circle cx="862.05" cy="601.24" r="7.2"/><circle cx="863.05" cy="671.47" r="7.2"/><circle cx="864.05" cy="601.24" r="7.2"/><circle cx="865.05" cy="601.24" r="7.2"/><circle cx="866.05" cy="601.24" r="7.2"/><circle cx="867.05" cy="601.24" r="7.2"/><circle cx="868.05" cy="601.24" r="7.2"/><circle cx="869.05" cy="671.47" r="7.2"/><circle cx="870.06" cy="601.24" r="7.2"/><circle cx="871.06" cy="601.24" r="7.2"/><circle cx="872.06" cy="601.24" r="7.2"/><circle cx="873.06" cy="601.24" r="7.2"/><circle cx="874.06" cy="741.69" r="7.2"/><circle cx="875.06" cy="601.24" r="7.2"/><circle cx="876.06" cy="601.24" r="7.2"/><circle cx="877.06" cy="601.24" r="7.2"/><circle cx="878.06" cy="601.24" r="7.2"/><circle cx="879.06" cy="601.24" r="7.2"/><circle cx="880.07" cy="601.24" r="7.2"/><circle cx="881.07" cy="601.24" r="7.2"/><circle cx="882.07" cy="741.69" r="7.2"/><circle cx="883.07" cy="601.24" r="7.2"/><circle cx="884.07" cy="601.24" r="7.2"/><circle cx="885.07" cy="601.24" r="7.2"/><circle cx="886.07" cy="601.24" r="7.2"/><circle cx="887.07" cy="601.24" r="7.2"/><circle cx="888.07" cy="601.24" r="7.2"/><circle cx="889.07" cy="601.24" r="7.2"/><circle cx="890.08" cy="601.24" r="7.2"/><circle cx="891.08" cy="601.24" r="7.2"/><circle cx="892.08" cy="601.24" r="7.2"/><circle cx="893.08" cy="601.24" r="7.2"/><circle cx="894.08" cy="601.24" r="7.2"/><circle cx="895.08" cy="601.24" r="7.2"/><circle cx="896.08" cy="601.24" r="7.2"/><circle cx="897.08" cy="601.24" r="7.2"/><circle cx="898.08" cy="460.80" r="7.2"/><circle cx="899.08" cy="601.24" r="7.2"/><circle cx="899.08" cy="460.80" r="7.2"/><circle cx="900.09" cy="460.80" r="7.2"/><circle cx="901.09" cy="460.80" r="7.2"/><circle cx="902.09" cy="460.80" r="7.2"/><circle cx="903.09" cy="460.80" r="7.2"/><circle cx="904.09" cy="320.36" r="7.2"/><circle cx="905.09" cy="460.80" r="7.2"/><circle cx="906.09" cy="460.80" r="7.2"/><circle cx="906.99" cy="460.80" r="7.2"/><circle cx="907.09" cy="531.02" r="7.2"/><circle cx="908.09" cy="531.02" r="7.2"/><circle cx="909.09" cy="601.24" r="7.2"/><circle cx="909.09" cy="601.24" r="7.2"/><circle cx="910.10" cy="460.80" r="7.2"/><circle cx="911.10" cy="601.24" r="7.2"/><circle cx="912.10" cy="601.24" r="7.2"/><circle cx="913.10" cy="601.24" r="7.2"/><circle cx="914.10" cy="601.24" r="7.2"/><circle cx="915.10" cy="601.24" r="7.2"/><circle cx="916.10" cy="601.24" r="7.2"/><circle cx="917.10" cy="601.24" r="7.2"/><circle cx="918.10" cy="601.24" r="7.2"/><circle cx="919.10" cy="601.24" r="7.2"/><circle cx="920.10" cy="601.24" r="7.2"/><circle cx="921.11" cy="601.24" r="7.2"/><circle cx="922.11" cy="601.24" r="7.2"/><circle cx="923.11" cy="601.24" r="7.2"/><circle cx="924.11" cy="601.24" r="7.2"/><circle cx="925.11" cy="601.24" r="7.2"/><circle cx="926.11" cy="601.24" r="7.2"/><circle cx="927.11" cy="531.02" r="7.2"/><circle cx="928.11" cy="741.69" r="7.2"/><circle cx="929.11" cy="601.24" r="7.2"/><circle cx="930.11" cy="601.24" r="7.2"/><circle cx="931.12" cy="601.24" r="7.2"/><circle cx="932.12" cy="601.24" r="7.2"/><circle cx="933.12" cy="601.24" r="7.2"/><circle cx="934.12" cy="601.24" r="7.2"/><circle cx="935.12" cy="601.24" r="7.2"/><circle cx="936.12" cy="601.24" r="7.2"/><circle cx="937.12" cy="601.24" r="7.2"/><circle cx="938.12" cy="601.24" r="7.2"/><circle cx="939.12" cy="601.24" r="7.2"/><circle cx="940.12" cy="601.24" r="7.2"/><circle cx="941.13" cy="741.69" r="7.2"/><circle cx="942.13" cy="671.47" r="7.2"/><circle cx="943.13" cy="601.24" r="7.2"/><circle cx="944.13" cy="601.24" r="7.2"/><circle cx="945.13" cy="601.24" r="7.2"/><circle cx="946.13" cy="601.24" r="7.2"/><circle cx="947.13" cy="601.24" r="7.2"/><circle cx="948.13" cy="741.69" r="7.2"/><circle cx="949.13" cy="601.24" r="7.2"/><circle cx="950.13" cy="601.24" r="7.2"/><circle cx="951.14" cy="601.24" r="7.2"/><circle cx="952.14" cy="601.24" r="7.2"/><circle cx="953.14" cy="601.24" r="7.2"/><circle cx="954.14" cy="601.24" r="7.2"/><circle cx="955.14" cy="601.24" r="7.2"/><circle cx="956.14" cy="601.24" r="7.2"/><circle cx="957.14" cy="601.24" r="7.2"/><circle cx="958.14" cy="601.24" r="7.2"/><circle cx="959.14" cy="601.24" r="7.2"/><circle cx="960.14" cy="601.24" r="7.2"/><circle cx="961.14" cy="601.24" r="7.2"/><circle cx="962.15" cy="601.24" r="7.2"/><circle cx="963.15" cy="601.24" r="7.2"/><circle cx="964.15" cy="601.24" r="7.2"/><circle cx="965.15" cy="601.24" r="7.2"/><circle cx="966.15" cy="601.24" r="7.2"/><circle cx="967.15" cy="601.24" r="7.2"/><circle cx="968.15" cy="601.24" r="7.2"/><circle cx="969.15" cy="671.47" r="7.2"/><circle cx="970.15" cy="601.24" r="7.2"/><circle cx="971.15" cy="601.24" r="7.2"/><circle cx="972.16" cy="741.69" r="7.2"/><circle cx="973.16" cy="601.24" r="7.2"/><circle cx="974.16" cy="601.24" r="7.2"/><circle cx="975.16" cy="601.24" r="7.2"/><circle cx="976.16" cy="671.47" r="7.2"/><circle cx="977.16" cy="671.47" r="7.2"/><circle cx="978.16" cy="601.24" r="7.2"/><circle cx="979.16" cy="601.24" r="7.2"/><circle cx="980.16" cy="601.24" r="7.2"/><circle cx="981.16" cy="601.24" r="7.2"/><circle cx="982.17" cy="741.69" r="7.2"/><circle cx="983.17" cy="601.24" r="7.2"/><circle cx="984.17" cy="601.24" r="7.2"/><circle cx="985.17" cy="601.24" r="7.2"/><circle cx="986.17" cy="601.24" r="7.2"/><circle cx="987.17" cy="601.24" r="7.2"/><circle cx="988.17" cy="601.24" r="7.2"/><circle cx="989.17" cy="601.24" r="7.2"/><circle cx="990.17" cy="601.24" r="7.2"/><circle cx="991.17" cy="601.24" r="7.2"/><circle cx="992.18" cy="601.24" r="7.2"/><circle cx="993.18" cy="601.24" r="7.2"/><circle cx="994.18" cy="601.24" r="7.2"/><circle cx="995.18" cy="601.24" r="7.2"/><circle cx="996.18" cy="601.24" r="7.2"/><circle cx="997.18" cy="601.24" r="7.2"/><circle cx="998.18" cy="601.24" r="7.2"/><circle cx="999.18" cy="601.24" r="7.2"/><circle cx="1000.18" cy="601.24" r="7.2"/><circle cx="1001.18" cy="601.24" r="7.2"/><circle cx="1002.18" cy="601.24" r="7.2"/><circle cx="1003.19" cy="601.24" r="7.2"/><circle cx="1004.19" cy="601.24" r="7.2"/><circle cx="1005.19" cy="601.24" r="7.2"/><circle cx="1006.19" cy="601.24" r="7.2"/><circle cx="1007.19" cy="601.24" r="7.2"/><circle cx="1008.19" cy="601.24" r="7.2"/><circle cx="1009.19" cy="741.69" r="7.2"/><circle cx="1010.19" cy="601.24" r="7.2"/><circle cx="1011.19" cy="601.24" r="7.2"/><circle cx="1012.19" cy="671.47" r="7.2"/><circle cx="1013.20" cy="601.24" r="7.2"/><circle cx="1014.20" cy="601.24" r="7.2"/><circle cx="1015.20" cy="601.24" r="7.2"/><circle cx="1016.20" cy="601.24" r="7.2"/><circle cx="1017.20" cy="601.24" r="7.2"/><circle cx="1018.20" cy="601.24" r="7.2"/><circle cx="1019.20" cy="601.24" r="7.2"/><circle cx="1020.20" cy="601.24" r="7.2"/><circle cx="1021.20" cy="601.24" r="7.2"/><circle cx="1022.20" cy="601.24" r="7.2"/><circle cx="1023.21" cy="601.24" r="7.2"/><circle cx="1024.21" cy="601.24" r="7.2"/><circle cx="1025.21" cy="601.24" r="7.2"/><circle cx="1026.21" cy="741.69" r="7.2"/><circle cx="1027.21" cy="601.24" r="7.2"/><circle cx="1028.21" cy="601.24" r="7.2"/><circle cx="1029.21" cy="601.24" r="7.2"/><circle cx="1030.21" cy="601.24" r="7.2"/><circle cx="1031.21" cy="601.24" r="7.2"/><circle cx="1032.21" cy="601.24" r="7.2"/><circle cx="1033.22" cy="601.24" r="7.2"/><circle cx="1034.22" cy="601.24" r="7.2"/><circle cx="1035.22" cy="601.24" r="7.2"/><circle cx="1036.22" cy="531.02" r="7.2"/><circle cx="1037.22" cy="601.24" r="7.2"/><circle cx="1038.22" cy="601.24" r="7.2"/><circle cx="1039.22" cy="601.24" r="7.2"/><circle cx="1040.22" cy="601.24" r="7.2"/><circle cx="1041.22" cy="601.24" r="7.2"/><circle cx="1042.22" cy="601.24" r="7.2"/><circle cx="1043.23" cy="601.24" r="7.2"/><circle cx="1044.23" cy="601.24" r="7.2"/><circle cx="1045.23" cy="601.24" r="7.2"/><circle cx="1046.23" cy="601.24" r="7.2"/><circle cx="1047.23" cy="601.24" r="7.2"/><circle cx="1048.23" cy="601.24" r="7.2"/><circle cx="1049.23" cy="601.24" r="7.2"/><circle cx="1050.23" cy="601.24" r="7.2"/><circle cx="1051.23" cy="601.24" r="7.2"/><circle cx="1052.23" cy="601.24" r="7.2"/><circle cx="1053.23" cy="601.24" r="7.2"/><circle cx="1054.24" cy="601.24" r="7.2"/><circle cx="1055.24" cy="601.24" r="7.2"/><circle cx="1056.24" cy="601.24" r="7.2"/><circle cx="1057.24" cy="601.24" r="7.2"/><circle cx="1058.24" cy="601.24" r="7.2"/><circle cx="1059.24" cy="601.24" r="7.2"/><circle cx="1060.24" cy="601.24" r="7.2"/><circle cx="1061.24" cy="601.24" r="7.2"/><circle cx="1062.24" cy="601.24" r="7.2"/><circle cx="1063.24" cy="601.24" r="7.2"/><circle cx="1064.25" cy="601.24" r="7.2"/><circle cx="1065.25" cy="601.24" r="7.2"/><circle cx="1066.25" cy="601.24" r="7.2"/><circle cx="1067.25" cy="671.47" r="7.2"/><circle cx="1068.25" cy="601.24" r="7.2"/><circle cx="1069.25" cy="671.47" r="7.2"/><circle cx="1070.25" cy="601.24" r="7.2"/><circle cx="1071.25" cy="601.24" r="7.2"/><circle cx="1072.25" cy="601.24" r="7.2"/><circle cx="1073.25" cy="601.24" r="7.2"/><circle cx="1074.26" cy="601.24" r="7.2"/><circle cx="1075.26" cy="601.24" r="7.2"/><circle cx="1076.26" cy="601.24" r="7.2"/><circle cx="1077.26" cy="601.24" r="7.2"/><circle cx="1078.26" cy="601.24" r="7.2"/><circle cx="1079.26" cy="601.24" r="7.2"/><circle cx="1080.26" cy="601.24" r="7.2"/><circle cx="1081.26" cy="601.24" r="7.2"/><circle cx="1082.26" cy="601.24" r="7.2"/><circle cx="1083.26" cy="601.24" r="7.2"/><circle cx="1084.27" cy="601.24" r="7.2"/><circle cx="1085.27" cy="601.24" r="7.2"/><circle cx="1086.27" cy="601.24" r="7.2"/><circle cx="1087.27" cy="601.24" r="7.2"/><circle cx="1088.47" cy="741.69" r="7.2"/><circle cx="1089.27" cy="531.02" r="7.2"/><circle cx="1090.27" cy="601.24" r="7.2"/><circle cx="1091.27" cy="601.24" r="7.2"/><circle cx="1091.77" cy="741.69" r="7.2"/><circle cx="1093.27" cy="601.24" r="7.2"/><circle cx="1094.27" cy="601.24" r="7.2"/><circle cx="1095.38" cy="741.69" r="7.2"/><circle cx="1096.28" cy="741.69" r="7.2"/><circle cx="1097.28" cy="601.24" r="7.2"/><circle cx="1098.28" cy="601.24" r="7.2"/><circle cx="1099.28" cy="601.24" r="7.2"/><circle cx="1100.28" cy="601.24" r="7.2"/><circle cx="1101.28" cy="601.24" r="7.2"/><circle cx="1102.28" cy="601.24" r="7.2"/><circle cx="1103.28" cy="601.24" r="7.2"/><circle cx="1104.28" cy="601.24" r="7.2"/><circle cx="1105.29" cy="601.24" r="7.2"/><circle cx="1106.29" cy="601.24" r="7.2"/><circle cx="1107.29" cy="601.24" r="7.2"/><circle cx="1108.29" cy="601.24" r="7.2"/><circle cx="1109.29" cy="601.24" r="7.2"/><circle cx="1110.29" cy="671.47" r="7.2"/><circle cx="1111.29" cy="601.24" r="7.2"/><circle cx="1112.29" cy="601.24" r="7.2"/><circle cx="1113.29" cy="601.24" r="7.2"/><circle cx="1114.29" cy="601.24" r="7.2"/><circle cx="1115.30" cy="601.24" r="7.2"/><circle cx="1116.30" cy="601.24" r="7.2"/><circle cx="1117.30" cy="601.24" r="7.2"/><circle cx="1118.30" cy="601.24" r="7.2"/><circle cx="1119.30" cy="601.24" r="7.2"/><circle cx="1120.30" cy="601.24" r="7.2"/><circle cx="1121.30" cy="601.24" r="7.2"/><circle cx="1122.30" cy="601.24" r="7.2"/><circle cx="1123.30" cy="601.24" r="7.2"/><circle cx="1124.30" cy="601.24" r="7.2"/><circle cx="1125.31" cy="601.24" r="7.2"/><circle cx="1126.31" cy="601.24" r="7.2"/><circle cx="1127.31" cy="671.47" r="7.2"/><circle cx="1128.31" cy="601.24" r="7.2"/><circle cx="1129.31" cy="601.24" r="7.2"/><circle cx="1130.31" cy="601.24" r="7.2"/><circle cx="1131.31" cy="601.24" r="7.2"/><circle cx="1132.31" cy="601.24" r="7.2"/><circle cx="1133.31" cy="601.24" r="7.2"/><circle cx="1134.31" cy="601.24" r="7.2"/><circle cx="1135.31" cy="601.24" r="7.2"/><circle cx="1136.32" cy="601.24" r="7.2"/><circle cx="1137.32" cy="601.24" r="7.2"/><circle cx="1138.32" cy="601.24" r="7.2"/><circle cx="1139.32" cy="601.24" r="7.2"/><circle cx="1140.32" cy="601.24" r="7.2"/><circle cx="1141.32" cy="601.24" r="7.2"/><circle cx="1142.32" cy="601.24" r="7.2"/><circle cx="1143.32" cy="601.24" r="7.2"/><circle cx="1144.32" cy="601.24" r="7.2"/><circle cx="1145.32" cy="601.24" r="7.2"/><circle cx="1146.33" cy="601.24" r="7.2"/><circle cx="1147.33" cy="601.24" r="7.2"/><circle cx="1148.33" cy="601.24" r="7.2"/><circle cx="1149.33" cy="601.24" r="7.2"/><circle cx="1150.33" cy="601.24" r="7.2"/><circle cx="1151.33" cy="741.69" r="7.2"/><circle cx="1152.33" cy="601.24" r="7.2"/><circle cx="1153.33" cy="601.24" r="7.2"/><circle cx="1154.33" cy="601.24" r="7.2"/><circle cx="1155.33" cy="601.24" r="7.2"/><circle cx="1156.34" cy="601.24" r="7.2"/><circle cx="1157.34" cy="601.24" r="7.2"/><circle cx="1158.34" cy="601.24" r="7.2"/><circle cx="1159.34" cy="741.69" r="7.2"/><circle cx="1160.34" cy="741.69" r="7.2"/><circle cx="1161.34" cy="601.24" r="7.2"/><circle cx="1162.34" cy="601.24" r="7.2"/><circle cx="1163.34" cy="671.47" r="7.2"/><circle cx="1164.34" cy="601.24" r="7.2"/><circle cx="1165.34" cy="601.24" r="7.2"/><circle cx="1166.35" cy="601.24" r="7.2"/><circle cx="1167.35" cy="601.24" r="7.2"/><circle cx="1168.35" cy="601.24" r="7.2"/><circle cx="1169.35" cy="601.24" r="7.2"/><circle cx="1170.35" cy="601.24" r="7.2"/><circle cx="1171.35" cy="601.24" r="7.2"/><circle cx="1172.35" cy="601.24" r="7.2"/><circle cx="1173.35" cy="601.24" r="7.2"/><circle cx="1174.35" cy="601.24" r="7.2"/><circle cx="1175.35" cy="601.24" r="7.2"/><circle cx="1176.36" cy="741.69" r="7.2"/><circle cx="1177.36" cy="601.24" r="7.2"/><circle cx="1178.36" cy="601.24" r="7.2"/><circle cx="1179.36" cy="601.24" r="7.2"/><circle cx="1180.36" cy="601.24" r="7.2"/><circle cx="1181.36" cy="601.24" r="7.2"/><circle cx="1182.36" cy="601.24" r="7.2"/><circle cx="1183.36" cy="601.24" r="7.2"/><circle cx="1184.36" cy="601.24" r="7.2"/><circle cx="1185.36" cy="601.24" r="7.2"/><circle cx="1186.36" cy="601.24" r="7.2"/><circle cx="1187.37" cy="601.24" r="7.2"/><circle cx="1188.37" cy="601.24" r="7.2"/><circle cx="1189.37" cy="601.24" r="7.2"/><circle cx="1190.37" cy="601.24" r="7.2"/><circle cx="1191.37" cy="601.24" r="7.2"/><circle cx="1192.37" cy="601.24" r="7.2"/><circle cx="1193.37" cy="601.24" r="7.2"/><circle cx="1194.37" cy="601.24" r="7.2"/><circle cx="1195.37" cy="601.24" r="7.2"/><circle cx="1196.37" cy="601.24" r="7.2"/><circle cx="1197.38" cy="601.24" r="7.2"/><circle cx="1198.38" cy="601.24" r="7.2"/><circle cx="1199.38" cy="601.24" r="7.2"/><circle cx="1200.38" cy="601.24" r="7.2"/><circle cx="1201.38" cy="601.24" r="7.2"/><circle cx="1202.38" cy="601.24" r="7.2"/><circle cx="1203.38" cy="601.24" r="7.2"/><circle cx="1204.38" cy="601.24" r="7.2"/><circle cx="1205.38" cy="601.24" r="7.2"/><circle cx="1206.38" cy="601.24" r="7.2"/><circle cx="1207.39" cy="601.24" r="7.2"/><circle cx="1208.39" cy="601.24" r="7.2"/><circle cx="1209.39" cy="601.24" r="7.2"/><circle cx="1210.39" cy="601.24" r="7.2"/><circle cx="1211.39" cy="601.24" r="7.2"/><circle cx="1212.39" cy="601.24" r="7.2"/><circle cx="1213.39" cy="601.24" r="7.2"/><circle cx="1214.39" cy="601.24" r="7.2"/><circle cx="1215.39" cy="601.24" r="7.2"/><circle cx="1216.39" cy="601.24" r="7.2"/><circle cx="1217.40" cy="671.47" r="7.2"/><circle cx="1218.40" cy="601.24" r="7.2"/><circle cx="1219.40" cy="601.24" r="7.2"/><circle cx="1220.40" cy="601.24" r="7.2"/><circle cx="1221.40" cy="601.24" r="7.2"/><circle cx="1222.40" cy="601.24" r="7.2"/>
</g>
<polyline points="198.40,601.24 199.40,601.24 200.40,601.24 201.40,601.24 202.40,601.24 203.40,601.24 204.41,601.24 205.41,601.24 206.41,601.24 207.41,601.24 208.41,601.24 209.41,601.24 210.41,601.24 211.41,601.24 212.41,601.24 213.41,601.24 214.42,601.24 215.42,601.24 216.42,601.24 217.42,601.24 218.42,601.24 219.42,601.24 220.42,601.24 221.42,601.24 222.42,601.24 223.42,601.24 224.43,601.24 225.43,601.24 226.43,601.24 227.43,601.24 228.43,601.24 229.43,601.24 230.43,601.24 231.43,601.24 232.43,601.24 233.43,601.24 234.44,601.24 235.44,601.24 236.44,601.24 237.44,601.24 238.44,601.24 239.44,601.24 240.44,601.24 241.44,601.24 242.44,601.24 243.44,601.24 244.44,601.24 245.45,601.24 246.45,601.24 247.45,601.24 248.45,601.24 249.45,601.24 250.45,601.24 251.45,601.24 252.45,601.24 253.45,601.24 254.45,601.24 255.46,601.24 256.46,601.24 257.46,601.24 258.46,601.24 259.46,601.24 260.46,601.24 261.46,601.24 262.46,601.24 263.46,601.24 264.46,601.24 265.47,601.24 266.47,601.24 267.47,601.24 268.47,601.24 269.47,601.24 270.47,601.24 271.47,601.24 272.47,601.24 273.47,601.24 274.47,601.24 275.48,601.24 276.48,601.24 277.48,601.24 278.48,601.24 279.48,601.24 280.48,601.24 281.48,601.24 282.48,601.24 283.48,601.24 284.48,601.24 285.49,601.24 286.49,601.24 287.49,601.24 288.49,601.24 289.49,601.24 290.49,601.24 291.49,601.24 292.49,601.24 293.49,601.24 294.49,601.24 295.49,601.24 296.50,601.24 297.50,601.24 298.50,601.24 299.50,601.24 300.50,601.24 301.50,601.24 302.50,601.23 303.50,601.23 304.50,601.23 305.50,601.23 306.51,601.23 307.51,601.23 308.51,601.22 309.51,601.22 310.51,601.22 311.51,601.21 312.51,601.21 313.51,601.21 314.51,601.20 315.51,601.20 316.52,601.19 317.52,601.18 318.52,601.18 319.52,601.17 320.52,601.16 321.52,601.15 322.52,601.14 323.52,601.13 324.52,601.12 325.52,601.10 326.53,601.09 327.53,601.07 328.53,601.05 329.53,601.03 330.53,601.01 331.53,600.98 332.53,600.96 333.53,600.93 334.53,600.90 335.53,600.86 336.53,600.82 337.54,600.78 338.54,600.74 339.54,600.69 340.54,600.64 341.54,600.58 342.54,600.52 343.54,600.46 344.54,600.39 345.54,600.31 346.54,600.23 347.55,600.14 348.55,600.05 349.55,599.94 350.55,599.84 351.55,599.72 352.55,599.59 353.55,599.46 354.55,599.32 355.55,599.17 356.55,599.00 357.56,598.83 358.56,598.65 359.56,598.46 360.56,598.25 361.56,598.03 362.56,597.80 363.56,597.56 364.56,597.30 365.56,597.03 366.56,596.74 367.57,596.44 368.57,596.12 369.57,595.79 370.57,595.44 371.57,595.07 372.57,594.69 373.57,594.28 374.57,593.86 375.57,593.43 376.57,592.97 377.57,592.49 378.58,592.00 379.58,591.49 380.58,590.95 381.58,590.40 382.58,589.83 383.58,589.24 384.58,588.63 385.58,588.00 386.58,587.35 387.58,586.68 388.59,585.99 389.59,585.29 390.59,584.57 391.59,583.83 392.59,583.08 393.59,582.31 394.59,581.53 395.59,580.73 396.59,579.92 397.59,579.10 398.60,578.27 399.60,577.43 400.60,576.59 401.60,575.74 402.60,574.88 403.60,574.02 404.60,573.16 405.60,572.30 406.60,571.44 407.60,570.59 408.61,569.75 409.61,568.91 410.61,568.09 411.61,567.28 412.61,566.48 413.61,565.70 414.61,564.94 415.61,564.20 416.61,563.49 417.61,562.80 418.62,562.14 419.62,561.51 420.62,560.92 421.62,560.35 422.62,559.83 423.62,559.34 424.62,558.89 425.62,558.49 426.62,558.12 427.62,557.80 428.62,557.53 429.63,557.30 430.63,557.12 431.63,556.98 432.63,556.89 433.63,556.86 434.63,556.87 435.63,556.92 436.63,557.03 437.63,557.19 438.63,557.39 439.64,557.64 440.64,557.93 441.64,558.27 442.64,558.65 443.64,559.08 444.64,559.54 445.64,560.04 446.64,560.59 447.64,561.16 448.64,561.77 449.65,562.41 450.65,563.09 451.65,563.78 452.65,564.51 453.65,565.26 454.65,566.02 455.65,566.81 456.65,567.61 457.65,568.43 458.65,569.26 459.66,570.10 460.66,570.95 461.66,571.80 462.66,572.66 463.66,573.52 464.66,574.38 465.66,575.23 466.66,576.09 467.66,576.93 468.66,577.77 469.66,578.60 470.67,579.42 471.67,580.23 472.67,581.03 473.67,581.81 474.67,582.57 475.67,583.32 476.67,584.05 477.67,584.75 478.67,585.44 479.67,586.10 480.68,586.73 481.68,587.34 482.68,587.91 483.68,588.46 484.68,588.97 485.68,589.44 486.68,589.88 487.68,590.27 488.68,590.61 489.68,590.91 490.69,591.15 491.69,591.33 492.69,591.44 493.69,591.49 494.69,591.46 495.69,591.35 496.69,591.15 497.69,590.85 498.69,590.45 499.69,589.94 500.70,589.31 501.70,588.55 502.70,587.65 503.70,586.61 504.70,585.42 505.70,584.06 506.70,582.54 507.70,580.84 508.70,578.95 509.70,576.88 510.70,574.61 511.71,572.14 512.71,569.48 513.71,566.62 514.71,563.57 515.71,560.34 516.71,556.92 517.71,553.35 518.71,549.63 519.71,545.78 520.71,541.83 521.72,537.82 522.72,533.77 523.72,529.72 524.72,525.72 525.72,521.81 526.72,518.03 527.72,514.45 528.72,511.10 529.72,508.04 530.72,505.31 531.73,502.96 532.73,501.03 533.73,499.55 534.73,498.55 535.73,498.04 536.73,498.04 537.73,498.55 538.73,499.55 539.73,501.03 540.73,502.97 541.74,505.34 542.74,508.09 543.74,511.18 544.74,514.57 545.74,518.21 546.74,522.05 547.74,526.03 548.74,530.11 549.74,534.25 550.74,538.41 551.75,542.53 552.75,546.60 553.75,550.57 554.75,554.43 555.75,558.15 556.75,561.72 557.75,565.11 558.75,568.33 559.75,571.37 560.75,574.21 561.75,576.87 562.76,579.34 563.76,581.62 564.76,583.73 565.76,585.66 566.76,587.42 567.76,589.03 568.76,590.48 569.76,591.80 570.76,592.98 571.76,594.04 572.77,594.98 573.77,595.82 574.77,596.56 575.77,597.22 576.77,597.80 577.77,598.30 578.77,598.74 579.77,599.12 580.77,599.45 581.77,599.74 582.78,599.98 583.78,600.19 584.78,600.37 585.78,600.52 586.78,600.64 587.78,600.75 588.78,600.84 589.78,600.91 590.78,600.97 591.78,601.03 592.79,601.07 593.79,601.10 594.79,601.13 595.79,601.15 596.79,601.17 597.79,601.19 598.79,601.20 599.79,601.21 600.79,601.22 601.79,601.22 602.79,601.23 603.80,601.23 604.80,601.23 605.80,601.24 606.80,601.24 607.80,601.24 608.80,601.24 609.80,601.24 610.80,601.24 611.80,601.24 612.80,601.24 613.81,601.24 614.81,601.24 615.81,601.24 616.81,601.24 617.81,601.24 618.81,601.24 619.81,601.24 620.81,601.24 621.81,601.24 622.81,601.24 623.82,601.24 624.82,601.24 625.82,601.24 626.82,601.24 627.82,601.24 628.82,601.24 629.82,601.24 630.82,601.24 631.82,601.24 632.82,601.24 633.83,601.24 634.83,601.24 635.83,601.24 636.83,601.24 637.83,601.24 638.83,601.24 639.83,601.24 640.83,601.24 641.83,601.24 642.83,601.24 643.83,601.24 644.84,601.23 645.84,601.22 646.84,601.20 647.84,601.18 648.84,601.14 649.84,601.07 650.84,600.97 651.84,600.83 652.84,600.61 653.84,600.29 654.85,599.84 655.85,599.21 656.85,598.32 657.85,597.12 658.85,595.50 659.85,593.35 660.85,590.53 661.85,586.90 662.85,582.28 663.85,576.45 664.86,569.21 665.86,560.33 666.86,549.56 667.86,536.67 668.86,521.50 669.86,503.93 670.86,483.99 671.86,461.91 672.86,438.15 673.86,413.51 674.87,389.09 675.87,366.27 676.87,346.61 677.87,331.65 678.87,322.66 679.87,320.48 680.87,325.31 681.87,336.69 682.87,353.61 683.87,374.66 684.88,398.26 685.88,422.91 686.88,447.33 687.88,470.53 688.88,491.84 689.88,510.89 690.88,527.55 691.88,541.83 692.88,553.89 693.88,563.91 694.88,572.15 695.89,578.82 696.89,584.16 697.89,588.39 698.89,591.69 699.89,594.24 700.89,596.17 701.89,597.62 702.89,598.69 703.89,599.47 704.89,600.03 705.90,600.43 706.90,600.70 707.90,600.89 708.90,601.02 709.90,601.10 710.90,601.15 711.90,601.19 712.90,601.21 713.90,601.22 714.90,601.23 715.91,601.24 716.91,601.24 717.91,601.24 718.91,601.24 719.91,601.24 720.91,601.24 721.91,601.24 722.91,601.24 723.91,601.24 724.91,601.24 725.92,601.24 726.92,601.24 727.92,601.24 728.92,601.24 729.92,601.24 730.92,601.24 731.92,601.24 732.92,601.24 733.92,601.24 734.92,601.24 735.92,601.24 736.93,601.24 737.93,601.24 738.93,601.24 739.93,601.24 740.93,601.24 741.93,601.24 742.93,601.24 743.93,601.24 744.93,601.24 745.93,601.24 746.94,601.24 747.94,601.24 748.94,601.24 749.94,601.24 750.94,601.24 751.94,601.24 752.94,601.24 753.94,601.24 754.94,601.24 755.94,601.24 756.95,601.24 757.95,601.24 758.95,601.24 759.95,601.24 760.95,601.24 761.95,601.24 762.95,601.24 763.95,601.24 764.95,601.24 765.95,601.24 766.96,601.24 767.96,601.24 768.96,601.24 769.96,601.24 770.96,601.24 771.96,601.24 772.96,601.24 773.96,601.24 774.96,601.24 775.96,601.24 776.97,601.24 777.97,601.24 778.97,601.24 779.97,601.24 780.97,601.24 781.97,601.24 782.97,601.24 783.97,601.24 784.97,601.24 785.97,601.24 786.97,601.24 787.98,601.24 788.98,601.24 789.98,601.24 790.98,601.24 791.98,601.24 792.98,601.24 793.98,601.24 794.98,601.24 795.98,601.24 796.98,601.24 797.99,601.24 798.99,601.24 799.99,601.24 800.99,601.24 801.99,601.24 802.99,601.24 803.99,601.24 804.99,601.24 805.99,601.24 806.99,601.24 808.00,601.24 809.00,601.24 810.00,601.24 811.00,601.24 812.00,601.24 813.00,601.24 814.00,601.24 815.00,601.24 816.00,601.24 817.00,601.24 818.01,601.24 819.01,601.24 820.01,601.24 821.01,601.24 822.01,601.24 823.01,601.24 824.01,601.24 825.01,601.24 826.01,601.24 827.01,601.24 828.01,601.24 829.02,601.24 830.02,601.24 831.02,601.24 832.02,601.24 833.02,601.24 834.02,601.24 835.02,601.24 836.02,601.24 837.02,601.24 838.02,601.24 839.03,601.24 840.03,601.24 841.03,601.24 842.03,601.24 843.03,601.24 844.03,601.24 845.03,601.24 846.03,601.24 847.03,601.24 848.03,601.24 849.04,601.24 850.04,601.24 851.04,601.24 852.04,601.24 853.04,601.24 854.04,601.24 855.04,601.24 856.04,601.24 857.04,601.24 858.04,601.24 859.05,601.24 860.05,601.24 861.05,601.24 862.05,601.24 863.05,601.24 864.05,601.24 865.05,601.24 866.05,601.24 867.05,601.24 868.05,601.24 869.05,601.24 870.06,601.24 871.06,601.24 872.06,601.24 873.06,601.24 874.06,601.24 875.06,601.24 876.06,601.24 877.06,601.24 878.06,601.24 879.06,601.24 880.07,601.24 881.07,601.23 882.07,601.21 883.07,601.17 884.07,601.10 885.07,600.97 886.07,600.74 887.07,600.36 888.07,599.74 889.07,598.76 890.08,597.25 891.08,595.00 892.08,591.74 893.08,587.16 894.08,580.89 895.08,572.57 896.08,561.81 897.08,548.35 898.08,532.08 899.08,513.23 900.09,492.51 901.09,471.22 902.09,451.28 903.09,434.99 904.09,424.57 905.09,421.61 906.09,426.60 907.09,438.74 908.09,456.21 909.09,476.71 910.10,498.01 911.10,518.35 912.10,536.57 913.10,552.12 914.10,564.86 915.10,574.95 916.10,582.70 917.10,588.50 918.10,592.70 919.10,595.67 920.10,597.71 921.11,599.06 922.11,599.94 923.11,600.48 924.11,600.81 925.11,601.01 926.11,601.12 927.11,601.18 928.11,601.21 929.11,601.23 930.11,601.24 931.12,601.24 932.12,601.24 933.12,601.24 934.12,601.24 935.12,601.24 936.12,601.24 937.12,601.24 938.12,601.24 939.12,601.24 940.12,601.24 941.13,601.24 942.13,601.24 943.13,601.24 944.13,601.24 945.13,601.24 946.13,601.24 947.13,601.24 948.13,601.24 949.13,601.24 950.13,601.24 951.14,601.24 952.14,601.24 953.14,601.24 954.14,601.24 955.14,601.24 956.14,601.24 957.14,601.24 958.14,601.24 959.14,601.24 960.14,601.24 961.14,601.24 962.15,601.24 963.15,601.24 964.15,601.24 965.15,601.24 966.15,601.24 967.15,601.24 968.15,601.24 969.15,601.24 970.15,601.24 971.15,601.24 972.16,601.24 973.16,601.24 974.16,601.24 975.16,601.24 976.16,601.24 977.16,601.24 978.16,601.24 979.16,601.24 980.16,601.24 981.16,601.24 982.17,601.24 983.17,601.24 984.17,601.24 985.17,601.24 986.17,601.24 987.17,601.24 988.17,601.24 989.17,601.24 990.17,601.24 991.17,601.24 992.18,601.24 993.18,601.24 994.18,601.24 995.18,601.24 996.18,601.24 997.18,601.24 998.18,601.24 999.18,601.24 1000.18,601.24 1001.18,601.24 1002.18,601.24 1003.19,601.24 1004.19,601.24 1005.19,601.24 1006.19,601.24 1007.19,601.24 1008.19,601.24 1009.19,601.24 1010.19,601.24 1011.19,601.24 1012.19,601.24 1013.20,601.24 1014.20,601.24 1015.20,601.24 1016.20,601.24 1017.20,601.24 1018.20,601.24 1019.20,601.24 1020.20,601.24 1021.20,601.24 1022.20,601.24 1023.21,601.24 1024.21,601.24 1025.21,601.24 1026.21,601.24 1027.21,601.24 1028.21,601.24 1029.21,601.24 1030.21,601.24 1031.21,601.24 1032.21,601.24 1033.22,601.22 1034.22,601.19 1035.22,601.11 1036.22,600.95 1037.22,600.64 1038.22,600.10 1039.22,599.17 1040.22,597.73 1041.22,595.60 1042.22,592.72 1043.23,589.10 1044.23,584.95 1045.23,580.66 1046.23,576.84 1047.23,574.12 1048.23,573.03 1049.23,573.79 1050.23,576.25 1051.23,579.92 1052.23,584.17 1053.23,588.39 1054.24,592.12 1055.24,595.14 1056.24,597.40 1057.24,598.96 1058.24,599.96 1059.24,600.57 1060.24,600.91 1061.24,601.09 1062.24,601.18 1063.24,601.22 1064.25,601.23 1065.25,601.24 1066.25,601.24 1067.25,601.24 1068.25,601.24 1069.25,601.24 1070.25,601.24 1071.25,601.24 1072.25,601.24 1073.25,601.24 1074.26,601.24 1075.26,601.24 1076.26,601.24 1077.26,601.24 1078.26,601.24 1079.26,601.24 1080.26,601.24 1081.26,601.24 1082.26,601.24 1083.26,601.24 1084.27,601.24 1085.27,601.24 1086.27,601.24 1087.27,601.24 1088.27,601.24 1089.27,601.24 1090.27,601.24 1091.27,601.24 1092.27,601.24 1093.27,601.24 1094.27,601.24 1095.28,601.24 1096.28,601.24 1097.28,601.24 1098.28,601.24 1099.28,601.24 1100.28,601.24 1101.28,601.24 1102.28,601.24 1103.28,601.24 1104.28,601.24 1105.29,601.24 1106.29,601.24 1107.29,601.24 1108.29,601.24 1109.29,601.24 1110.29,601.24 1111.29,601.24 1112.29,601.24 1113.29,601.24 1114.29,601.24 1115.30,601.24 1116.30,601.24 1117.30,601.24 1118.30,601.24 1119.30,601.24 1120.30,601.24 1121.30,601.24 1122.30,601.24 1123.30,601.24 1124.30,601.24 1125.31,601.24 1126.31,601.24 1127.31,601.24 1128.31,601.24 1129.31,601.24 1130.31,601.24 1131.31,601.24 1132.31,601.24 1133.31,601.24 1134.31,601.24 1135.31,601.24 1136.32,601.24 1137.32,601.24 1138.32,601.24 1139.32,601.24 1140.32,601.24 1141.32,601.24 1142.32,601.24 1143.32,601.24 1144.32,601.24 1145.32,601.24 1146.33,601.24 1147.33,601.24 1148.33,601.24 1149.33,601.24 1150.33,601.24 1151.33,601.24 1152.33,601.24 1153.33,601.24 1154.33,601.24 1155.33,601.24 1156.34,601.24 1157.34,601.24 1158.34,601.24 1159.34,601.24 1160.34,601.24 1161.34,601.24 1162.34,601.24 1163.34,601.24 1164.34,601.24 1165.34,601.24 1166.35,601.24 1167.35,601.24 1168.35,601.24 1169.35,601.24 1170.35,601.24 1171.35,601.24 1172.35,601.24 1173.35,601.24 1174.35,601.24 1175.35,601.24 1176.36,601.24 1177.36,601.24 1178.36,601.24 1179.36,601.24 1180.36,601.24 1181.36,601.24 1182.36,601.24 1183.36,601.24 1184.36,601.24 1185.36,601.24 1186.36,601.24 1187.37,601.24 1188.37,601.24 1189.37,601.24 1190.37,601.24 1191.37,601.24 1192.37,601.24 1193.37,601.24 1194.37,601.24 1195.37,601.24 1196.37,601.24 1197.38,601.24 1198.38,601.24 1199.38,601.24 1200.38,601.24 1201.38,601.24 1202.38,601.24 1203.38,601.24 1204.38,601.24 1205.38,601.24 1206.38,601.24 1207.39,601.24 1208.39,601.24 1209.39,601.24 1210.39,601.24 1211.39,601.24 1212.39,601.24 1213.39,601.24 1214.39,601.24 1215.39,601.24 1216.39,601.24 1217.40,601.24 1218.40,601.24 1219.40,601.24 1220.40,601.24 1221.40,601.24 1222.40,601.24" fill="none" stroke="#000" stroke-width="2" stroke-linejoin="round" stroke-linecap="round"/>
<g fill="#cccccc">
<rect x="197.40" y="579" width="1026.00" height="1" fill-opacity="0.28"/><rect x="197.40" y="580" width="1026.00" height="1" fill-opacity="1"/><rect x="197.40" y="581" width="1026.00" height="1" fill-opacity="0.6"/><rect x="197.40" y="582" width="1026.00" height="1" fill-opacity="0.95"/><rect x="197.40" y="583" width="1026.00" height="1" fill-opacity="0.63"/><rect x="197.40" y="584" width="1026.00" height="1" fill-opacity="1"/><rect x="197.40" y="585" width="1026.00" height="1" fill-opacity="0.8"/><rect x="197.40" y="586" width="1026.00" height="1" fill-opacity="1"/><rect x="197.40" y="587" width="1026.00" height="1" fill-opacity="1"/><rect x="197.40" y="588" width="1026.00" height="1" fill-opacity="1"/><rect x="197.40" y="589" width="1026.00" height="1" fill-opacity="0.55"/><rect x="197.40" y="590" width="1026.00" height="13.75"/>
</g>
<line x1="198.40" y1="587.3" x2="1222.40" y2="587.3" stroke="#df536b" stroke-width="3" stroke-linecap="round"/>
<line x1="198.40" y1="602.05" x2="1222.40" y2="602.05" stroke="#2297e6" stroke-width="3" stroke-linecap="round"/>
<g stroke="#000" stroke-width="2" stroke-linecap="round" fill="none">
<line x1="197.40" y1="764.16" x2="1198.38" y2="764.16"/><line x1="197.40" y1="764.16" x2="197.40" y2="783.36"/><line x1="397.59" y1="764.16" x2="397.59" y2="783.36"/><line x1="597.79" y1="764.16" x2="597.79" y2="783.36"/><line x1="797.99" y1="764.16" x2="797.99" y2="783.36"/><line x1="998.18" y1="764.16" x2="998.18" y2="783.36"/><line x1="1198.38" y1="764.16" x2="1198.38" y2="783.36"/><line x1="157.44" y1="741.69" x2="157.44" y2="179.91"/><line x1="157.44" y1="741.69" x2="138.24" y2="741.69"/><line x1="157.44" y1="601.24" x2="138.24" y2="601.24"/><line x1="157.44" y1="460.80" x2="138.24" y2="460.80"/><line x1="157.44" y1="320.36" x2="138.24" y2="320.36"/><line x1="157.44" y1="179.91" x2="138.24" y2="179.91"/>
<rect x="157.44" y="157.44" width="1105.92" height="606.72"/>
</g>
<g font-size="32px" text-anchor="middle">
<text x="197.40" y="833.55">0</text><text x="397.59" y="833.55">200</text><text x="597.79" y="833.55">400</text><text x="797.99" y="833.55">600</text><text x="998.18" y="833.55">800</text><text x="1198.38" y="833.55">1000</text><text transform="translate(111.4,741.69) rotate(-90)">0</text><text transform="translate(111.4,601.24) rotate(-90)">1</text><text transform="translate(111.4,460.80) rotate(-90)">2</text><text transform="translate(111.4,320.36) rotate(-90)">3</text><text transform="translate(111.4,179.91) rotate(-90)">4</text><text transform="translate(34.6,460.80) rotate(-90)">x(median of all runs)</text>
</g>
<text x="711.0" y="93.3" font-size="38.4px" font-weight="bold" text-anchor="middle" letter-spacing="-0.2">split_runmed_ndwt</text>
<rect x="964.7" y="157.44" width="298.66" height="192" fill="#fff"/>
<path d="M964.7,157.44 V349.44 H1263.36" fill="none" stroke="#000" stroke-width="2" stroke-linejoin="miter"/>
<rect x="963.70" y="157.44" width="299.66" height="1" fill="#000"/>
<line x1="1263.36" y1="158.04" x2="1263.36" y2="350.44" stroke="#000" stroke-width="2"/>
<line x1="993.5" y1="195.84" x2="1051" y2="195.84" stroke="#000" stroke-width="2" stroke-linecap="round"/><text x="1080" y="207.69" font-size="32px" letter-spacing="0.12">True mean</text>
<line x1="993.5" y1="234.24" x2="1051" y2="234.24" stroke="#df536b" stroke-width="2" stroke-linecap="round"/><text x="1080" y="246.09" font-size="32px" letter-spacing="0.12">best fit</text>
<line x1="993.5" y1="272.64" x2="1051" y2="272.64" stroke="#2297e6" stroke-width="2" stroke-linecap="round"/><text x="1080" y="284.49" font-size="32px" letter-spacing="0.12">worst fit</text>
<line x1="993.5" y1="311.04" x2="1051" y2="311.04" stroke="#cccccc" stroke-width="2" stroke-linecap="round"/><text x="1080" y="322.89" font-size="32px" letter-spacing="0.12">all others</text>
</svg>
</body></html>
